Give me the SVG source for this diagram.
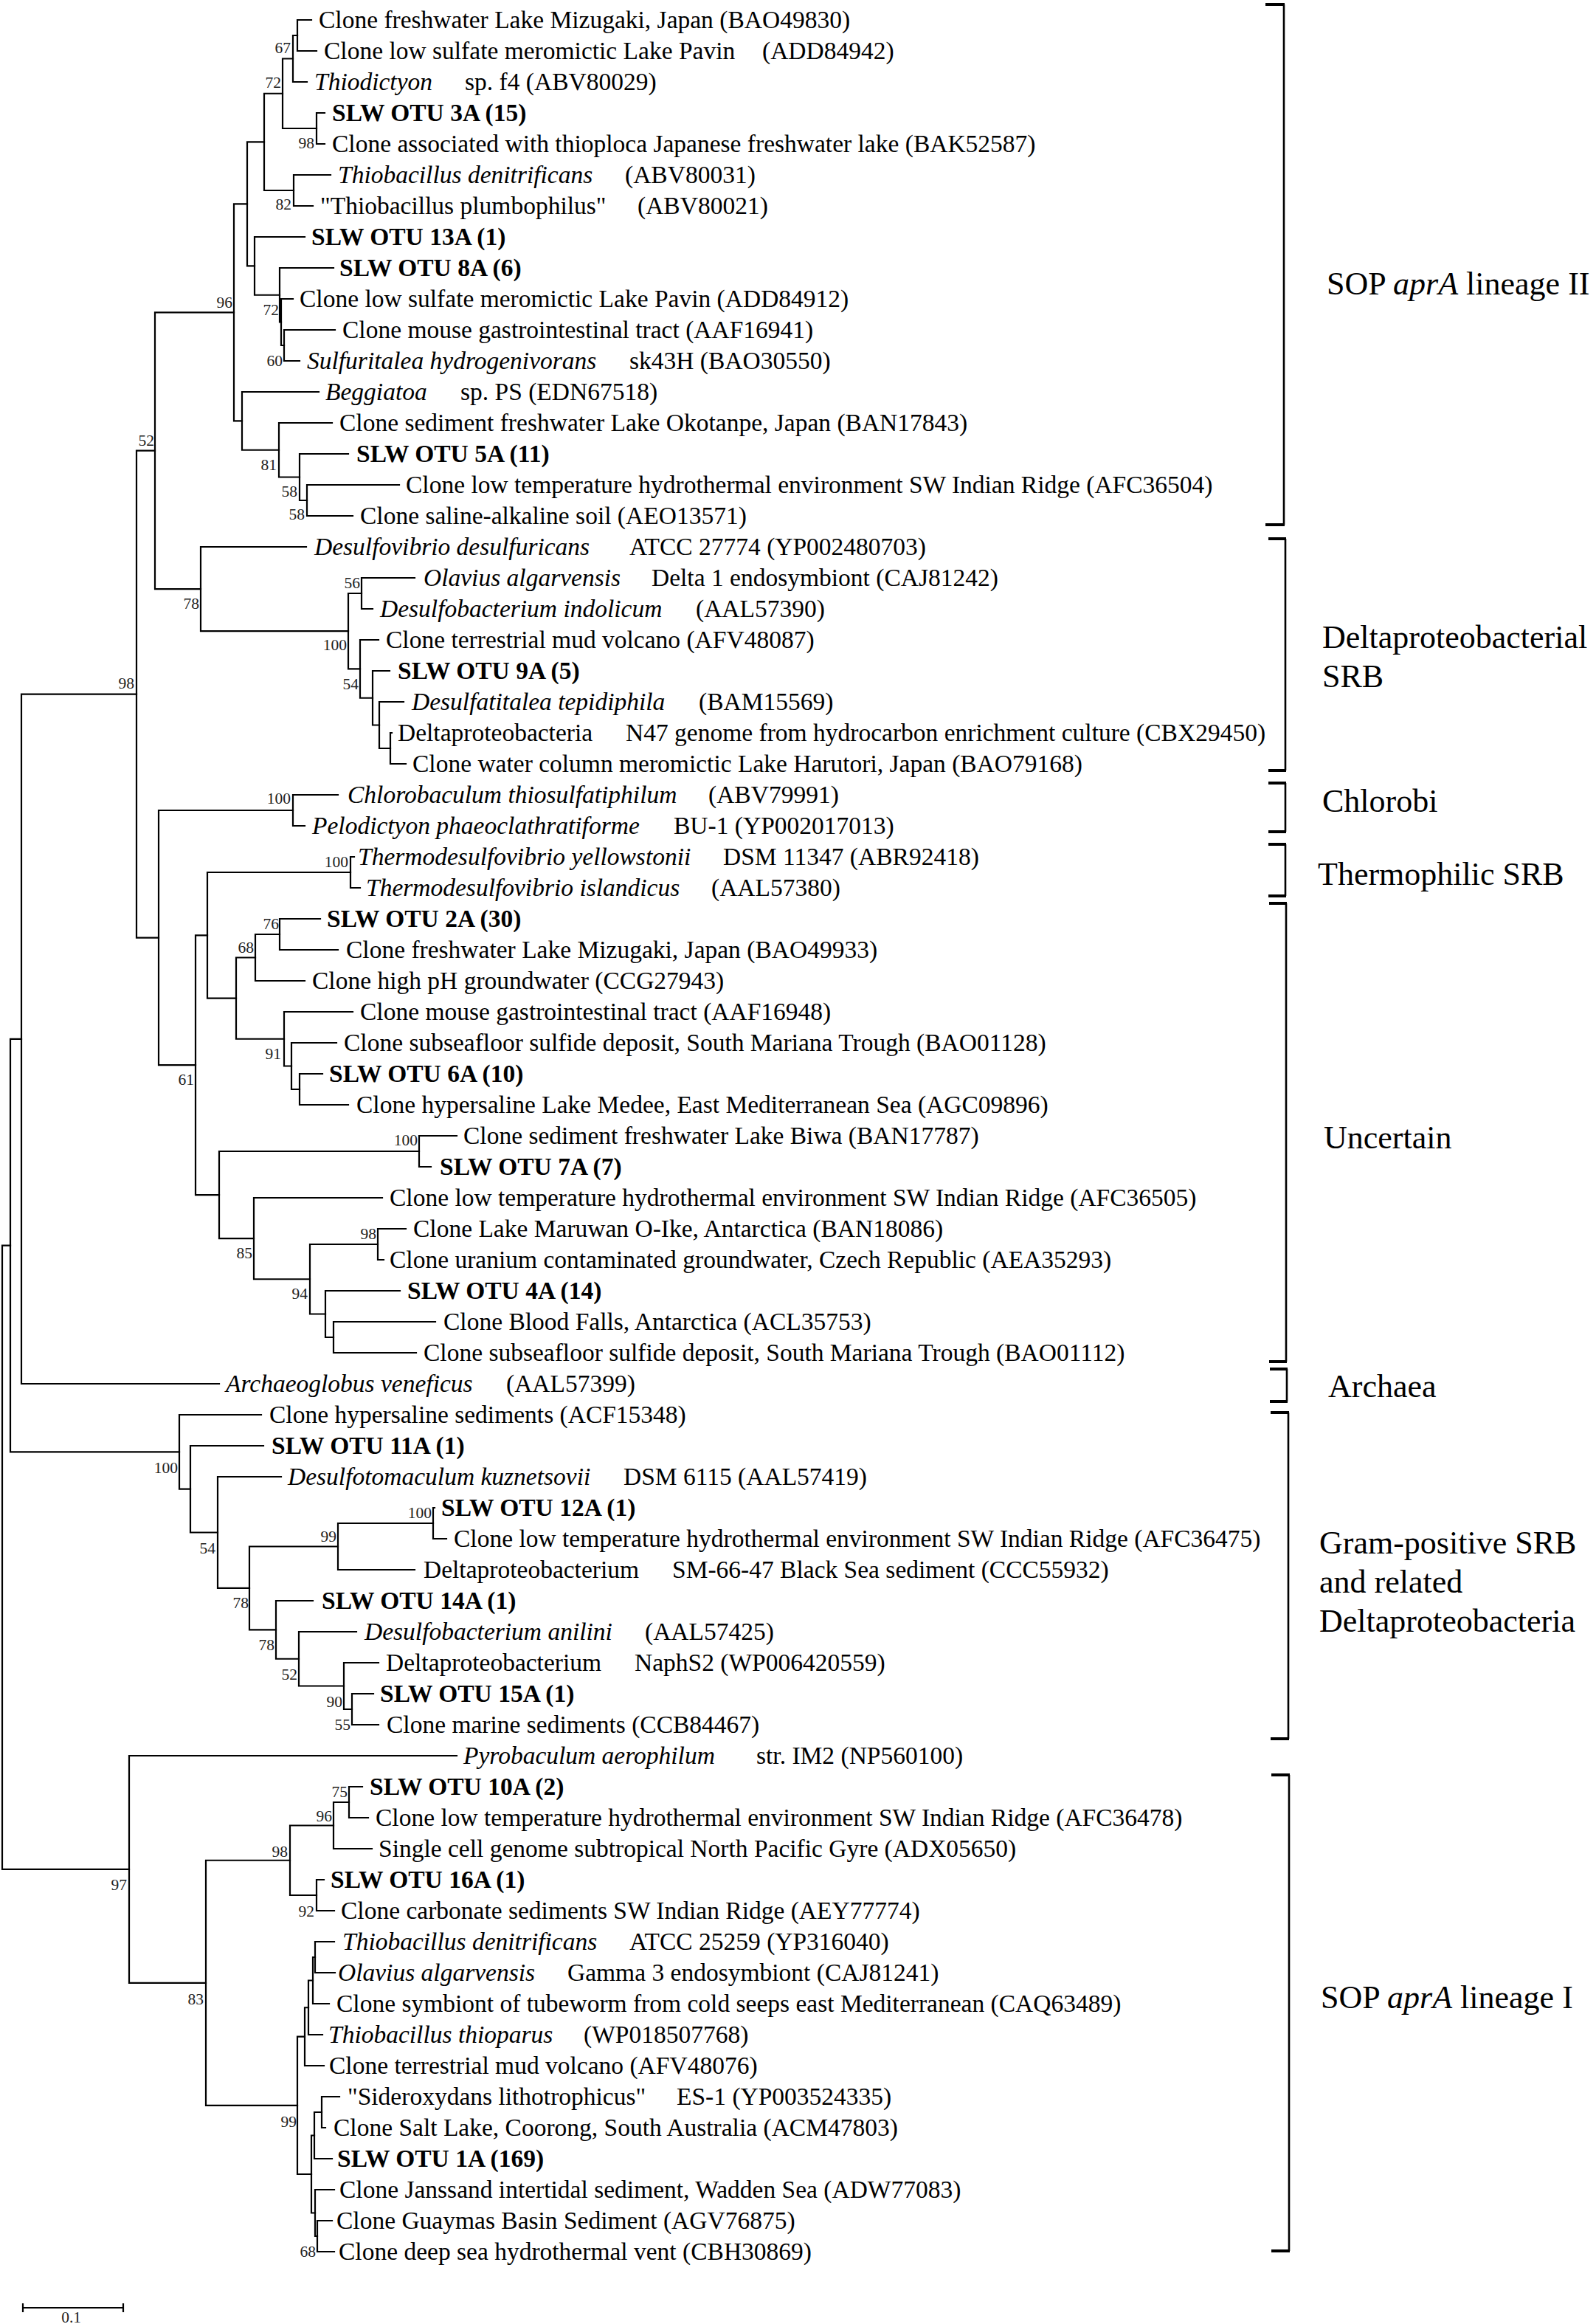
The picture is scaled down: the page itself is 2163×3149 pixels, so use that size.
<svg xmlns="http://www.w3.org/2000/svg" width="2163" height="3149" viewBox="0 0 2163 3149">
<style>
.t{font-family:"Liberation Serif","Times New Roman",serif;font-size:33.5px;fill:#000}
.b{font-weight:bold}
.i{font-style:italic}
.bs{font-family:"Liberation Serif","Times New Roman",serif;font-size:21.5px;text-anchor:end;fill:#222}
.cl{font-family:"Liberation Serif","Times New Roman",serif;font-size:44px;fill:#000}
.br{fill:none;stroke:#000;stroke-width:2.2;stroke-linecap:square}
.bk{fill:none;stroke:#000;stroke-width:2.6}
.tk{fill:none;stroke:#000;stroke-width:4}
</style>
<rect width="2163" height="3149" fill="#fff"/>
<g id="connectors">
<path class="br" d="M3,1687.6V2532.9M3,1687.6H14M3,2532.9H175"/>
<path class="br" d="M14,1407.8V1967.4M14,1407.8H29M14,1967.4H243"/>
<path class="br" d="M29,940.65V1875M29,940.65H185M29,1875H297"/>
<path class="br" d="M185,610.7V1270.6M185,610.7H210M185,1270.6H215"/>
<path class="br" d="M210,423.4V798.1M210,423.4H317M210,798.1H272"/>
<path class="br" d="M317,276.4V570.4M317,276.4H335M317,570.4H328"/>
<path class="br" d="M335,192.4V360.4M335,192.4H358M335,360.4H345"/>
<path class="br" d="M358,126.75V258M358,126.75H383M358,258H398"/>
<path class="br" d="M383,79.5V174M383,79.5H397M383,174H429"/>
<path class="br" d="M397,48V111M397,48H403M397,111H416"/>
<path class="br" d="M403,27V69M403,27H422M403,69H429"/>
<path class="br" d="M429,153V195M429,153H440M429,195H440"/>
<path class="br" d="M398,237V279M398,237H448M398,279H424"/>
<path class="br" d="M345,321V399.75M345,321H413M345,399.75H379"/>
<path class="br" d="M379,363V436.5M379,363H452M379,436.5H381"/>
<path class="br" d="M381,405V468M381,405H397M381,468H385"/>
<path class="br" d="M385,447V489M385,447H454M385,489H406"/>
<path class="br" d="M328,531V609.75M328,531H432M328,609.75H378"/>
<path class="br" d="M378,573V646.5M378,573H450M378,646.5H406"/>
<path class="br" d="M406,615V678M406,615H472M406,678H416"/>
<path class="br" d="M416,657V699M416,657H541M416,699H478"/>
<path class="br" d="M272,741V855.2M272,741H415M272,855.2H472"/>
<path class="br" d="M472,804V906.4M472,804H490M472,906.4H488"/>
<path class="br" d="M490,783V825M490,783H562M490,825H505"/>
<path class="br" d="M488,867V945.75M488,867H513M488,945.75H505"/>
<path class="br" d="M505,909V982.5M505,909H528M505,982.5H514"/>
<path class="br" d="M514,951V1014M514,951H547M514,1014H529"/>
<path class="br" d="M529,993V1035M529,993H531M529,1035H550"/>
<path class="br" d="M215,1098V1443.2M215,1098H397M215,1443.2H265"/>
<path class="br" d="M397,1077V1119M397,1077H458M397,1119H413"/>
<path class="br" d="M265,1267.3V1619.1M265,1267.3H281M265,1619.1H297"/>
<path class="br" d="M281,1182V1352.6M281,1182H475M281,1352.6H320"/>
<path class="br" d="M475,1161V1203M475,1161H480M475,1203H488"/>
<path class="br" d="M320,1297.5V1407.75M320,1297.5H346M320,1407.75H385"/>
<path class="br" d="M346,1266V1329M346,1266H379M346,1329H413"/>
<path class="br" d="M379,1245V1287M379,1245H434M379,1287H458"/>
<path class="br" d="M385,1371V1444.5M385,1371H478M385,1444.5H395"/>
<path class="br" d="M395,1413V1476M395,1413H456M395,1476H406"/>
<path class="br" d="M406,1455V1497M406,1455H437M406,1497H472"/>
<path class="br" d="M297,1560V1678.1M297,1560H568M297,1678.1H344"/>
<path class="br" d="M568,1539V1581M568,1539H619M568,1581H584"/>
<path class="br" d="M344,1623V1733.25M344,1623H518M344,1733.25H420"/>
<path class="br" d="M420,1686V1780.5M420,1686H512M420,1780.5H441"/>
<path class="br" d="M512,1665V1707M512,1665H550M512,1707H520"/>
<path class="br" d="M441,1749V1812M441,1749H542M441,1812H452"/>
<path class="br" d="M452,1791V1833M452,1791H590M452,1833H564"/>
<path class="br" d="M243,1917V2017.7M243,1917H354M243,2017.7H258"/>
<path class="br" d="M258,1959V2076.5M258,1959H357M258,2076.5H295"/>
<path class="br" d="M295,2001V2151.9M295,2001H381M295,2151.9H338"/>
<path class="br" d="M338,2095.5V2208.4M338,2095.5H458M338,2208.4H374"/>
<path class="br" d="M458,2064V2127M458,2064H587M458,2127H562"/>
<path class="br" d="M587,2043V2085M587,2043H589M587,2085H605"/>
<path class="br" d="M374,2169V2247.75M374,2169H424M374,2247.75H405"/>
<path class="br" d="M405,2211V2284.5M405,2211H483M405,2284.5H466"/>
<path class="br" d="M466,2253V2316M466,2253H513M466,2316H477"/>
<path class="br" d="M477,2295V2337M477,2295H506M477,2337H513"/>
<path class="br" d="M175,2379V2686.8M175,2379H619M175,2686.8H279"/>
<path class="br" d="M279,2520.75V2852.8M279,2520.75H393M279,2852.8H403"/>
<path class="br" d="M393,2473.5V2568M393,2473.5H452M393,2568H429"/>
<path class="br" d="M452,2442V2505M452,2442H473M452,2505H504"/>
<path class="br" d="M473,2421V2463M473,2421H491M473,2463H499"/>
<path class="br" d="M429,2547V2589M429,2547H439M429,2589H453"/>
<path class="br" d="M403,2759.6V2946M403,2759.6H413M403,2946H422"/>
<path class="br" d="M413,2720.25V2799M413,2720.25H418M413,2799H439"/>
<path class="br" d="M418,2683.5V2757M418,2683.5H424M418,2757H437"/>
<path class="br" d="M424,2652V2715M424,2652H427M424,2715H446"/>
<path class="br" d="M427,2631V2673M427,2631H453M427,2673H454"/>
<path class="br" d="M422,2893.5V2998.5M422,2893.5H426M422,2998.5H427"/>
<path class="br" d="M426,2862V2925M426,2862H436M426,2925H450"/>
<path class="br" d="M436,2841V2883M436,2841H460M436,2883H441"/>
<path class="br" d="M427,2967V3030M427,2967H453M427,3030H430"/>
<path class="br" d="M430,3009V3051M430,3009H450M430,3051H453"/>
</g>
<g id="bootstrap">
<text class="bs" x="394" y="72">67</text>
<text class="bs" x="381" y="119">72</text>
<text class="bs" x="426" y="201">98</text>
<text class="bs" x="395" y="284">82</text>
<text class="bs" x="315" y="417">96</text>
<text class="bs" x="378" y="427">72</text>
<text class="bs" x="383" y="496">60</text>
<text class="bs" x="375" y="637">81</text>
<text class="bs" x="403" y="673">58</text>
<text class="bs" x="413" y="704">58</text>
<text class="bs" x="209" y="604">52</text>
<text class="bs" x="270" y="825">78</text>
<text class="bs" x="470" y="881">100</text>
<text class="bs" x="488" y="797">56</text>
<text class="bs" x="486" y="934">54</text>
<text class="bs" x="182" y="933">98</text>
<text class="bs" x="394" y="1089">100</text>
<text class="bs" x="472" y="1175">100</text>
<text class="bs" x="344" y="1291">68</text>
<text class="bs" x="378" y="1259">76</text>
<text class="bs" x="381" y="1435">91</text>
<text class="bs" x="263" y="1470">61</text>
<text class="bs" x="566" y="1552">100</text>
<text class="bs" x="342" y="1705">85</text>
<text class="bs" x="417" y="1760">94</text>
<text class="bs" x="510" y="1679">98</text>
<text class="bs" x="241" y="1996">100</text>
<text class="bs" x="292" y="2105">54</text>
<text class="bs" x="456" y="2089">99</text>
<text class="bs" x="585" y="2057">100</text>
<text class="bs" x="337" y="2179">78</text>
<text class="bs" x="372" y="2236">78</text>
<text class="bs" x="403" y="2276">52</text>
<text class="bs" x="464" y="2313">90</text>
<text class="bs" x="475" y="2344">55</text>
<text class="bs" x="172" y="2561">97</text>
<text class="bs" x="471" y="2435">75</text>
<text class="bs" x="450" y="2468">96</text>
<text class="bs" x="390" y="2516">98</text>
<text class="bs" x="426" y="2597">92</text>
<text class="bs" x="276" y="2716">83</text>
<text class="bs" x="402" y="2882">99</text>
<text class="bs" x="428" y="3058">68</text>
</g>
<g id="leaves">
<g id="leaf0"><text class="t" x="432" y="38">Clone freshwater Lake Mizugaki, Japan (BAO49830)</text></g>
<g id="leaf1"><text class="t" x="439" y="80">Clone low sulfate meromictic Lake Pavin<tspan x="1033">(ADD84942)</tspan></text></g>
<g id="leaf2"><text class="t" x="426" y="122"><tspan class="i">Thiodictyon</tspan><tspan x="630">sp. f4 (ABV80029)</tspan></text></g>
<g id="leaf3"><text class="t b" x="450" y="164">SLW OTU 3A (15)</text></g>
<g id="leaf4"><text class="t" x="450" y="206">Clone associated with thioploca Japanese freshwater lake (BAK52587)</text></g>
<g id="leaf5"><text class="t" x="458" y="248"><tspan class="i">Thiobacillus denitrificans</tspan><tspan x="847">(ABV80031)</tspan></text></g>
<g id="leaf6"><text class="t" x="434" y="290">"Thiobacillus plumbophilus"<tspan x="864">(ABV80021)</tspan></text></g>
<g id="leaf7"><text class="t b" x="422" y="332">SLW OTU 13A (1)</text></g>
<g id="leaf8"><text class="t b" x="460" y="374">SLW OTU 8A (6)</text></g>
<g id="leaf9"><text class="t" x="406" y="416">Clone low sulfate meromictic Lake Pavin (ADD84912)</text></g>
<g id="leaf10"><text class="t" x="464" y="458">Clone mouse gastrointestinal tract (AAF16941)</text></g>
<g id="leaf11"><text class="t" x="416" y="500"><tspan class="i">Sulfuritalea hydrogenivorans</tspan><tspan x="853">sk43H (BAO30550)</tspan></text></g>
<g id="leaf12"><text class="t" x="441" y="542"><tspan class="i">Beggiatoa</tspan><tspan x="624">sp. PS (EDN67518)</tspan></text></g>
<g id="leaf13"><text class="t" x="460" y="584">Clone sediment freshwater Lake Okotanpe, Japan (BAN17843)</text></g>
<g id="leaf14"><text class="t b" x="483" y="626">SLW OTU 5A (11)</text></g>
<g id="leaf15"><text class="t" x="550" y="668">Clone low temperature hydrothermal environment SW Indian Ridge (AFC36504)</text></g>
<g id="leaf16"><text class="t" x="488" y="710">Clone saline-alkaline soil (AEO13571)</text></g>
<g id="leaf17"><text class="t" x="426" y="752"><tspan class="i">Desulfovibrio desulfuricans</tspan><tspan x="853">ATCC 27774 (YP002480703)</tspan></text></g>
<g id="leaf18"><text class="t" x="574" y="794"><tspan class="i">Olavius algarvensis</tspan><tspan x="883">Delta 1 endosymbiont (CAJ81242)</tspan></text></g>
<g id="leaf19"><text class="t" x="515" y="836"><tspan class="i">Desulfobacterium indolicum</tspan><tspan x="943">(AAL57390)</tspan></text></g>
<g id="leaf20"><text class="t" x="523" y="878">Clone terrestrial mud volcano (AFV48087)</text></g>
<g id="leaf21"><text class="t b" x="539" y="920">SLW OTU 9A (5)</text></g>
<g id="leaf22"><text class="t" x="558" y="962"><tspan class="i">Desulfatitalea tepidiphila</tspan><tspan x="947">(BAM15569)</tspan></text></g>
<g id="leaf23"><text class="t" x="539" y="1004">Deltaproteobacteria<tspan x="848">N47 genome from hydrocarbon enrichment culture (CBX29450)</tspan></text></g>
<g id="leaf24"><text class="t" x="559" y="1046">Clone water column meromictic Lake Harutori, Japan (BAO79168)</text></g>
<g id="leaf25"><text class="t" x="471" y="1088"><tspan class="i">Chlorobaculum thiosulfatiphilum</tspan><tspan x="960">(ABV79991)</tspan></text></g>
<g id="leaf26"><text class="t" x="423" y="1130"><tspan class="i">Pelodictyon phaeoclathratiforme</tspan><tspan x="913">BU-1 (YP002017013)</tspan></text></g>
<g id="leaf27"><text class="t" x="485" y="1172"><tspan class="i">Thermodesulfovibrio yellowstonii</tspan><tspan x="980">DSM 11347 (ABR92418)</tspan></text></g>
<g id="leaf28"><text class="t" x="496" y="1214"><tspan class="i">Thermodesulfovibrio islandicus</tspan><tspan x="964">(AAL57380)</tspan></text></g>
<g id="leaf29"><text class="t b" x="443" y="1256">SLW OTU 2A (30)</text></g>
<g id="leaf30"><text class="t" x="469" y="1298">Clone freshwater Lake Mizugaki, Japan (BAO49933)</text></g>
<g id="leaf31"><text class="t" x="423" y="1340">Clone high pH groundwater (CCG27943)</text></g>
<g id="leaf32"><text class="t" x="488" y="1382">Clone mouse gastrointestinal tract (AAF16948)</text></g>
<g id="leaf33"><text class="t" x="466" y="1424">Clone subseafloor sulfide deposit, South Mariana Trough (BAO01128)</text></g>
<g id="leaf34"><text class="t b" x="446" y="1466">SLW OTU 6A (10)</text></g>
<g id="leaf35"><text class="t" x="483" y="1508">Clone hypersaline Lake Medee, East Mediterranean Sea (AGC09896)</text></g>
<g id="leaf36"><text class="t" x="628" y="1550">Clone sediment freshwater Lake Biwa (BAN17787)</text></g>
<g id="leaf37"><text class="t b" x="596" y="1592">SLW OTU 7A (7)</text></g>
<g id="leaf38"><text class="t" x="528" y="1634">Clone low temperature hydrothermal environment SW Indian Ridge (AFC36505)</text></g>
<g id="leaf39"><text class="t" x="560" y="1676">Clone Lake Maruwan O-Ike, Antarctica (BAN18086)</text></g>
<g id="leaf40"><text class="t" x="528" y="1718">Clone uranium contaminated groundwater, Czech Republic (AEA35293)</text></g>
<g id="leaf41"><text class="t b" x="552" y="1760">SLW OTU 4A (14)</text></g>
<g id="leaf42"><text class="t" x="601" y="1802">Clone Blood Falls, Antarctica (ACL35753)</text></g>
<g id="leaf43"><text class="t" x="574" y="1844">Clone subseafloor sulfide deposit, South Mariana Trough (BAO01112)</text></g>
<g id="leaf44"><text class="t" x="306" y="1886"><tspan class="i">Archaeoglobus veneficus</tspan><tspan x="686">(AAL57399)</tspan></text></g>
<g id="leaf45"><text class="t" x="365" y="1928">Clone hypersaline sediments (ACF15348)</text></g>
<g id="leaf46"><text class="t b" x="368" y="1970">SLW OTU 11A (1)</text></g>
<g id="leaf47"><text class="t" x="390" y="2012"><tspan class="i">Desulfotomaculum kuznetsovii</tspan><tspan x="845">DSM 6115 (AAL57419)</tspan></text></g>
<g id="leaf48"><text class="t b" x="598" y="2054">SLW OTU 12A (1)</text></g>
<g id="leaf49"><text class="t" x="615" y="2096">Clone low temperature hydrothermal environment SW Indian Ridge (AFC36475)</text></g>
<g id="leaf50"><text class="t" x="574" y="2138">Deltaproteobacterium<tspan x="911">SM-66-47 Black Sea sediment (CCC55932)</tspan></text></g>
<g id="leaf51"><text class="t b" x="436" y="2180">SLW OTU 14A (1)</text></g>
<g id="leaf52"><text class="t" x="494" y="2222"><tspan class="i">Desulfobacterium anilini</tspan><tspan x="874">(AAL57425)</tspan></text></g>
<g id="leaf53"><text class="t" x="523" y="2264">Deltaproteobacterium<tspan x="860">NaphS2 (WP006420559)</tspan></text></g>
<g id="leaf54"><text class="t b" x="515" y="2306">SLW OTU 15A (1)</text></g>
<g id="leaf55"><text class="t" x="524" y="2348">Clone marine sediments (CCB84467)</text></g>
<g id="leaf56"><text class="t" x="628" y="2390"><tspan class="i">Pyrobaculum aerophilum</tspan><tspan x="1025">str. IM2 (NP560100)</tspan></text></g>
<g id="leaf57"><text class="t b" x="501" y="2432">SLW OTU 10A (2)</text></g>
<g id="leaf58"><text class="t" x="509" y="2474">Clone low temperature hydrothermal environment SW Indian Ridge (AFC36478)</text></g>
<g id="leaf59"><text class="t" x="513" y="2516">Single cell genome subtropical North Pacific Gyre (ADX05650)</text></g>
<g id="leaf60"><text class="t b" x="448" y="2558">SLW OTU 16A (1)</text></g>
<g id="leaf61"><text class="t" x="462" y="2600">Clone carbonate sediments SW Indian Ridge (AEY77774)</text></g>
<g id="leaf62"><text class="t" x="464" y="2642"><tspan class="i">Thiobacillus denitrificans</tspan><tspan x="853">ATCC 25259 (YP316040)</tspan></text></g>
<g id="leaf63"><text class="t" x="458" y="2684"><tspan class="i">Olavius algarvensis</tspan><tspan x="769">Gamma 3 endosymbiont (CAJ81241)</tspan></text></g>
<g id="leaf64"><text class="t" x="456" y="2726">Clone symbiont of tubeworm from cold seeps east Mediterranean (CAQ63489)</text></g>
<g id="leaf65"><text class="t" x="445" y="2768"><tspan class="i">Thiobacillus thioparus</tspan><tspan x="791">(WP018507768)</tspan></text></g>
<g id="leaf66"><text class="t" x="446" y="2810">Clone terrestrial mud volcano (AFV48076)</text></g>
<g id="leaf67"><text class="t" x="471" y="2852">"Sideroxydans lithotrophicus"<tspan x="917">ES-1 (YP003524335)</tspan></text></g>
<g id="leaf68"><text class="t" x="452" y="2894">Clone Salt Lake, Coorong, South Australia (ACM47803)</text></g>
<g id="leaf69"><text class="t b" x="457" y="2936">SLW OTU 1A (169)</text></g>
<g id="leaf70"><text class="t" x="460" y="2978">Clone Janssand intertidal sediment, Wadden Sea (ADW77083)</text></g>
<g id="leaf71"><text class="t" x="456" y="3020">Clone Guaymas Basin Sediment (AGV76875)</text></g>
<g id="leaf72"><text class="t" x="459" y="3062">Clone deep sea hydrothermal vent (CBH30869)</text></g>
</g>
<g id="clades">
<g id="clade-sop2"><path class="bk" d="M1740,6V711"/><path class="tk" d="M1715,6H1741M1715,711H1741"/><text class="cl" x="1798" y="399">SOP <tspan class="i">aprA</tspan> lineage II</text></g>
<g id="clade-delta"><path class="bk" d="M1742,730V1044"/><path class="tk" d="M1719,730H1743M1719,1044H1743"/><text class="cl" x="1792" y="878">Deltaproteobacterial</text><text class="cl" x="1792" y="931">SRB</text></g>
<g id="clade-chlorobi"><path class="bk" d="M1742,1061V1127"/><path class="tk" d="M1719,1061H1743M1719,1127H1743"/><text class="cl" x="1792" y="1100">Chlorobi</text></g>
<g id="clade-thermo"><path class="bk" d="M1742,1144V1214"/><path class="tk" d="M1719,1144H1743M1719,1214H1743"/><text class="cl" x="1786" y="1199">Thermophilic SRB</text></g>
<g id="clade-uncertain"><path class="bk" d="M1743,1224V1845"/><path class="tk" d="M1720,1224H1744M1720,1845H1744"/><text class="cl" x="1794" y="1556">Uncertain</text></g>
<g id="clade-archaea"><path class="bk" d="M1744,1855V1899"/><path class="tk" d="M1721,1855H1745M1721,1899H1745"/><text class="cl" x="1800" y="1893">Archaea</text></g>
<g id="clade-gram"><path class="bk" d="M1746,1914V2356"/><path class="tk" d="M1722,1914H1747M1722,2356H1747"/><text class="cl" x="1788" y="2105">Gram-positive SRB</text><text class="cl" x="1788" y="2158">and related</text><text class="cl" x="1788" y="2211">Deltaproteobacteria</text></g>
<g id="clade-sop1"><path class="bk" d="M1747,2405V3050"/><path class="tk" d="M1723,2405H1748M1723,3050H1748"/><text class="cl" x="1790" y="2721">SOP <tspan class="i">aprA</tspan> lineage I</text></g>
</g>
<g id="scalebar">
<path class="br" d="M31,3127H167M31,3122V3132M167,3122V3132"/>
<text class="bs" x="110" y="3147">0.1</text>
</g>
</svg>
